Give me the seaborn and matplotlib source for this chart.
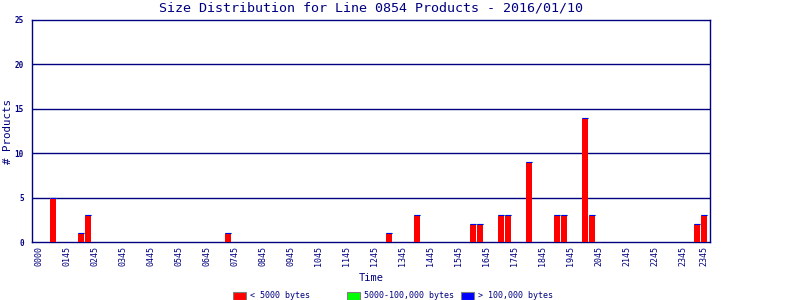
import matplotlib
matplotlib.use("Agg")
import matplotlib.pyplot as plt
from matplotlib.patches import Rectangle
import seaborn as sns
import numpy as np
import pandas as pd

# ---- data ----
n_slots = 96
bar_slots = [2, 6, 7, 27, 50, 54, 62, 63, 66, 67, 70, 74, 75, 78, 79, 94, 95]
small_counts = [5, 1, 3, 1, 1, 3, 2, 2, 3, 3, 9, 3, 3, 14, 3, 2, 3]   # < 5000 bytes
mid_counts = [0] * len(bar_slots)                                      # 5000-100,000 bytes
large_counts = [0] * len(bar_slots)                                    # > 100,000 bytes
tick_slots = [0, 4, 8, 12, 16, 20, 24, 28, 32, 36, 40, 44, 48, 52, 56, 60, 64,
              68, 72, 76, 80, 84, 88, 92, 95]
tick_labels = ["0000", "0145", "0245", "0345", "0445", "0545", "0645", "0745",
               "0845", "0945", "1045", "1145", "1245", "1345", "1445", "1545",
               "1645", "1745", "1845", "1945", "2045", "2145", "2245", "2345", "2345"]
legend_labels = ["< 5000 bytes", "5000-100,000 bytes", "> 100,000 bytes"]
colors = ["#ff0000", "#00ff00", "#0000ff"]
navy = "#000080"

red = np.zeros(n_slots)
green = np.zeros(n_slots)
blue = np.zeros(n_slots)
for s, a, b, c in zip(bar_slots, small_counts, mid_counts, large_counts):
    red[s] = a
    green[s] = b
    blue[s] = c

df = pd.DataFrame({"slot": np.arange(n_slots), "small": red})

sns.set_style("white")
plt.rcParams["font.family"] = ["DejaVu Sans Mono", "DejaVu Sans"]

fig = plt.figure(figsize=(8, 3), dpi=100)
ax = fig.add_axes([32 / 800, 1 - 242 / 300, (710 - 32) / 800, (242 - 20) / 300])

bw = 0.86
sns.barplot(data=df, x="slot", y="small", order=list(range(n_slots)),
            color=colors[0], saturation=1, width=bw, linewidth=0, ax=ax,
            native_scale=False, zorder=3)

has = (red + green + blue) > 0
xs = np.arange(n_slots)[has]
ax.bar(xs, green[has], bottom=red[has], width=bw, color=colors[1],
       edgecolor=colors[1], linewidth=0.8, zorder=4)
ax.bar(xs, blue[has], bottom=(red + green)[has], width=bw, color=colors[2],
       edgecolor=colors[2], linewidth=0.8, zorder=5)

ax.set_xlim(-1, 95.9)
ax.set_ylim(0, 25)
ax.set_yticks([0, 5, 10, 15, 20, 25])
ax.set_yticklabels(["0", "5", "10", "15", "20", "25"], fontsize=5.5,
                   color=navy, fontweight="bold")
ax.set_xticks(tick_slots)
ax.set_xticklabels(tick_labels, rotation=90, fontsize=6, color=navy)
ax.tick_params(axis="both", length=0, pad=3)
ax.tick_params(axis="y", pad=6)

for y in [5, 10, 15, 20]:
    ax.axhline(y, color=navy, linewidth=1, zorder=1)
for sp in ax.spines.values():
    sp.set_color(navy)
    sp.set_linewidth(1)
    sp.set_visible(True)
ax.set_xlabel("")
ax.set_ylabel("")

fig.text(371 / 800, 1 - 8 / 300, "Size Distribution for Line 0854 Products - 2016/01/10",
         ha="center", va="center", fontsize=9.6, color=navy)
fig.text(371 / 800, 1 - 278 / 300, "Time", ha="center", va="center",
         fontsize=7.5, color=navy)
fig.text(8 / 800, 1 - 131 / 300, "# Products", ha="center", va="center",
         rotation=90, fontsize=7.8, color=navy)

# legend
box_x = [233, 347, 461]
for bx, lab, col in zip(box_x, legend_labels, colors):
    fig.patches.append(Rectangle((bx / 800, 1 - 299.5 / 300), 13 / 800, 8 / 300,
                                 transform=fig.transFigure, facecolor=col,
                                 edgecolor="#808080", linewidth=0.8))
    fig.text((bx + 17) / 800, 1 - 295.5 / 300, lab, ha="left", va="center",
             fontsize=6, color=navy)

fig.savefig("out.png", dpi=100, facecolor="white")
